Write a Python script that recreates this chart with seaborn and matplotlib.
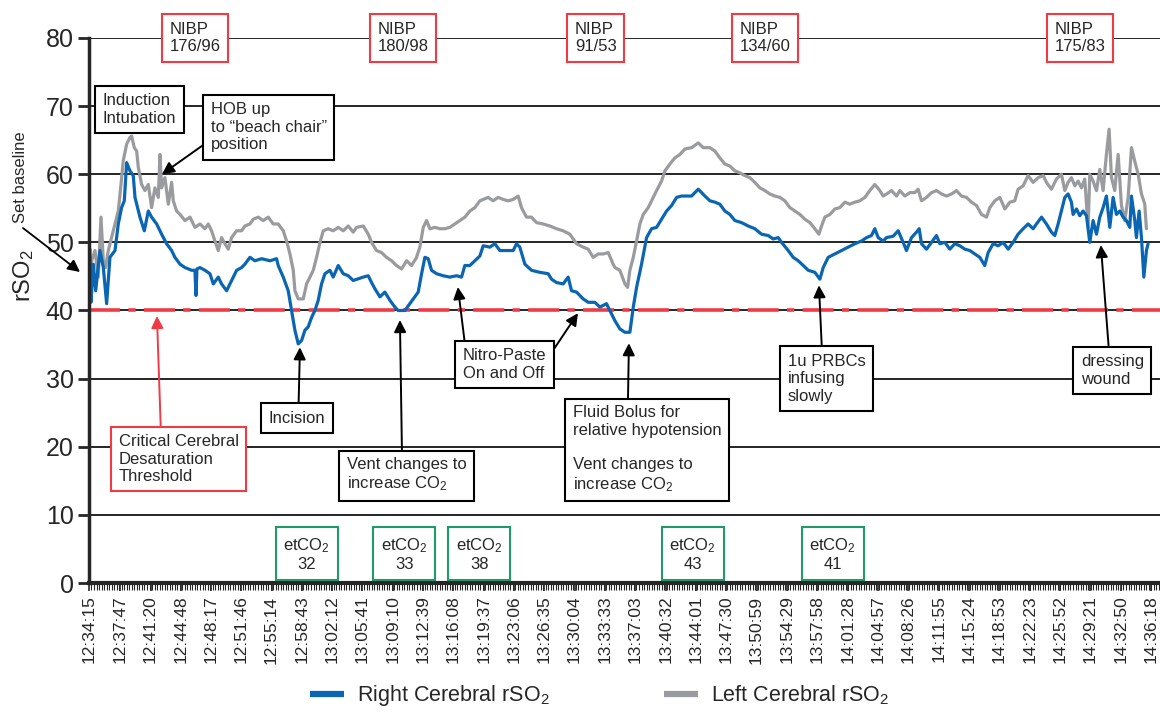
import pandas as pd
import matplotlib
matplotlib.use("Agg")
import matplotlib.pyplot as plt
import seaborn as sns
from matplotlib.ticker import MultipleLocator

# elapsed minutes since 12:34:15 and rSO2 (%)
right_min = [
    0.11, 0.23, 0.50, 0.77, 1.26, 1.65, 2.03, 2.41, 2.99, 3.37,
    3.75, 4.06, 4.33, 4.71, 5.09, 5.29, 5.86, 6.36, 6.82, 7.20,
    7.78, 8.35, 8.92, 9.50, 9.88, 10.46, 11.03, 11.80, 12.18, 12.30,
    12.41, 12.76, 13.33, 13.90, 14.29, 14.86, 15.24, 15.82, 16.39, 16.97,
    17.54, 17.92, 18.50, 19.07, 19.84, 20.80, 21.56, 21.75, 22.33, 22.90,
    23.29, 23.67, 24.05, 24.44, 24.82, 25.20, 25.59, 25.97, 26.35, 26.73,
    27.12, 27.69, 28.07, 28.65, 29.22, 29.80, 30.37, 31.52, 32.10, 32.48,
    32.86, 33.44, 34.01, 34.59, 35.16, 35.54, 36.31, 36.88, 37.46, 37.84,
    38.23, 38.61, 38.99, 39.37, 39.95, 40.71, 41.48, 42.25, 42.82, 43.20,
    43.78, 44.35, 44.93, 45.31, 46.08, 46.65, 47.23, 48.76, 49.14, 49.52,
    50.10, 50.86, 51.82, 52.78, 53.16, 53.74, 54.50, 55.08, 55.46, 56.04,
    56.80, 57.38, 58.14, 58.72, 59.48, 60.06, 60.45, 61.02, 61.60, 62.17,
    62.56, 62.94, 63.51, 64.09, 64.66, 65.24, 65.81, 66.39, 66.96, 67.54,
    68.11, 69.26, 70.03, 70.79, 71.37, 71.94, 72.51, 73.09, 73.66, 74.24,
    75.00, 75.77, 76.54, 77.30, 78.07, 78.64, 79.22, 79.60, 80.37, 80.94,
    81.52, 82.09, 82.67, 83.43, 84.01, 84.39, 84.96, 85.73, 86.49, 87.26,
    88.03, 88.79, 89.37, 89.94, 90.32, 90.71, 91.28, 91.67, 92.43, 93.01,
    93.58, 93.96, 94.54, 95.11, 95.42, 95.69, 96.26, 96.84, 97.41, 97.79,
    98.37, 98.94, 99.52, 100.09, 100.67, 101.24, 101.82, 102.39, 102.96, 103.35,
    103.92, 104.50, 105.07, 105.65, 106.22, 106.79, 107.37, 107.94, 108.52, 108.90,
    109.48, 110.05, 110.62, 111.01, 111.39, 111.77, 112.16, 112.54, 112.92, 113.11,
    113.50, 113.88, 114.26, 114.65, 115.03, 115.41, 115.80, 116.18, 116.56, 116.94,
    117.33, 117.71, 118.09, 118.48, 118.86, 119.24, 119.63, 119.82, 120.20, 120.39,
    120.70, 120.97, 121.24, 121.54, 121.73,
]
right_val = [
    49.0, 41.2, 46.8, 42.9, 48.8, 46.3, 41.0, 47.8, 48.8, 52.7,
    55.1, 56.1, 61.7, 60.5, 59.8, 56.6, 53.7, 51.7, 54.6, 53.7,
    52.7, 51.2, 49.8, 48.8, 47.8, 46.8, 46.3, 45.9, 45.9, 42.2,
    46.1, 46.3, 45.9, 45.4, 43.9, 44.9, 43.9, 42.9, 44.4, 45.9,
    46.3, 46.8, 47.8, 47.3, 47.6, 47.3, 47.6, 46.6, 44.9, 42.9,
    40.0, 37.1, 35.1, 35.6, 37.1, 37.6, 39.0, 40.0, 41.5, 43.9,
    45.4, 45.9, 44.9, 46.6, 45.4, 45.1, 44.4, 44.9, 45.1, 44.1,
    43.2, 42.0, 42.7, 41.5, 40.5, 40.0, 40.0, 41.0, 42.0, 42.7,
    45.4, 47.8, 47.6, 45.9, 45.4, 45.1, 44.9, 45.1, 44.9, 46.6,
    46.6, 47.3, 48.0, 49.5, 49.3, 49.8, 48.8, 48.8, 49.8, 49.3,
    46.8, 45.9, 45.6, 45.4, 44.6, 44.1, 43.9, 44.9, 42.9, 42.7,
    41.7, 41.2, 41.2, 40.5, 41.0, 39.5, 38.5, 37.3, 36.8, 36.8,
    40.5, 43.4, 46.8, 50.7, 52.0, 52.2, 53.4, 54.6, 55.4, 56.6,
    56.8, 56.8, 57.8, 56.8, 56.1, 55.9, 55.6, 54.6, 54.1, 53.2,
    52.9, 52.4, 52.0, 51.2, 51.0, 50.5, 50.7, 50.0, 48.8, 47.8,
    47.3, 46.6, 45.9, 45.6, 44.6, 46.3, 47.8, 48.3, 48.8, 49.3,
    49.8, 50.2, 50.7, 51.0, 52.0, 50.7, 50.2, 50.7, 50.9, 51.7,
    50.0, 48.8, 50.7, 51.5, 52.0, 49.8, 49.0, 50.0, 51.0, 49.8,
    50.0, 49.0, 49.8, 49.5, 49.0, 48.8, 48.3, 47.8, 46.6, 48.5,
    49.8, 49.5, 50.0, 49.0, 50.0, 51.2, 52.0, 52.7, 52.0, 52.7,
    53.7, 52.7, 51.5, 51.0, 52.7, 54.6, 56.6, 57.1, 55.9, 54.1,
    54.9, 53.9, 54.6, 53.9, 50.0, 53.2, 51.2, 53.7, 55.1, 56.8,
    52.2, 56.6, 54.1, 54.6, 53.7, 53.2, 52.2, 56.8, 53.2, 50.7,
    54.6, 50.7, 44.9, 48.8, 49.8,
]

left_min = [
    0.05, 0.31, 0.69, 1.07, 1.38, 1.65, 1.91, 2.22, 2.60, 2.99,
    3.37, 3.68, 3.94, 4.33, 4.71, 4.90, 5.21, 5.48, 5.67, 6.05,
    6.43, 6.82, 7.20, 7.58, 7.97, 8.16, 8.35, 8.73, 9.12, 9.50,
    9.69, 10.07, 10.46, 11.03, 11.61, 12.18, 12.76, 13.33, 13.71, 14.09,
    14.48, 14.86, 15.24, 15.63, 16.01, 16.39, 16.97, 17.54, 17.92, 18.50,
    18.88, 19.46, 20.03, 20.61, 21.18, 21.75, 22.33, 22.71, 23.10, 23.48,
    23.67, 24.05, 24.63, 25.01, 25.40, 25.78, 26.16, 26.55, 26.93, 27.50,
    28.07, 28.65, 29.22, 29.80, 30.37, 30.76, 31.52, 32.10, 32.48, 33.05,
    33.63, 34.20, 34.78, 35.35, 35.93, 36.50, 37.08, 37.65, 38.03, 38.42,
    38.80, 39.18, 39.76, 40.33, 40.91, 41.48, 42.06, 42.63, 43.20, 43.78,
    44.35, 44.93, 45.31, 45.88, 46.46, 47.03, 47.61, 48.18, 48.76, 49.33,
    49.71, 50.29, 50.86, 51.44, 52.20, 52.97, 53.74, 54.50, 55.27, 56.04,
    56.80, 57.38, 57.95, 58.53, 59.10, 59.68, 60.25, 60.45, 61.02, 61.60,
    61.91, 62.17, 62.56, 62.94, 63.32, 63.71, 64.28, 64.66, 65.24, 65.81,
    66.20, 66.77, 67.34, 67.92, 68.49, 69.26, 70.03, 70.60, 71.37, 71.94,
    72.51, 73.09, 73.66, 74.24, 74.81, 75.39, 75.96, 76.54, 77.11, 77.69,
    78.26, 78.83, 79.41, 79.98, 80.56, 81.13, 81.71, 82.28, 82.86, 83.43,
    83.89, 84.20, 84.58, 85.16, 85.73, 86.30, 86.88, 87.45, 88.03, 88.60,
    89.18, 89.75, 90.32, 90.90, 91.28, 91.67, 92.24, 92.82, 93.20, 93.77,
    94.35, 94.92, 95.30, 95.69, 96.26, 96.84, 97.41, 97.99, 98.56, 99.14,
    99.71, 100.28, 100.86, 101.43, 102.01, 102.58, 103.16, 103.54, 104.12, 104.69,
    105.27, 105.84, 106.41, 106.79, 107.37, 107.94, 108.52, 109.09, 109.67, 110.05,
    110.62, 111.20, 111.77, 112.16, 112.54, 112.92, 113.31, 113.69, 114.07, 114.45,
    114.84, 115.03, 115.41, 115.80, 116.18, 116.56, 116.94, 117.25, 117.52, 117.90,
    118.29, 118.67, 119.05, 119.44, 119.82, 120.20, 120.59, 120.97, 121.35, 121.54,
]
left_val = [
    45.5, 47.3, 48.8, 44.9, 53.7, 47.3, 46.3, 48.8, 50.7, 52.7,
    54.6, 58.5, 62.0, 64.4, 65.4, 65.6, 63.9, 63.4, 61.0, 58.5,
    57.6, 58.5, 55.1, 58.0, 56.6, 62.9, 58.0, 59.5, 55.6, 58.8,
    56.1, 54.6, 54.1, 53.2, 53.7, 52.2, 52.7, 52.0, 52.7, 51.7,
    50.2, 48.8, 50.7, 49.8, 49.0, 50.7, 51.7, 51.7, 52.4, 52.7,
    53.4, 53.7, 53.2, 53.7, 52.7, 52.7, 51.7, 50.2, 48.3, 45.9,
    42.9, 41.7, 41.7, 43.9, 44.9, 45.9, 47.8, 50.0, 51.7, 52.0,
    51.7, 52.2, 51.7, 52.4, 51.5, 52.2, 52.4, 51.2, 50.0, 48.8,
    48.5, 47.8, 47.3, 46.6, 46.1, 47.3, 46.6, 47.8, 49.3, 52.2,
    53.2, 52.0, 52.2, 52.0, 52.0, 52.2, 52.7, 53.2, 53.7, 54.6,
    55.1, 56.1, 56.3, 56.6, 56.1, 56.6, 56.3, 56.1, 56.3, 56.8,
    55.1, 53.7, 53.7, 52.9, 52.7, 52.4, 52.0, 51.7, 51.2, 49.8,
    49.3, 49.0, 47.8, 48.3, 48.3, 48.5, 46.8, 46.3, 45.9, 43.9,
    43.4, 45.9, 47.8, 50.2, 52.7, 54.1, 55.1, 56.1, 57.6, 59.0,
    60.5, 61.5, 62.4, 62.9, 63.7, 63.9, 64.6, 63.9, 63.9, 63.4,
    62.4, 61.5, 61.2, 60.5, 60.2, 59.8, 59.5, 58.8, 58.0, 57.6,
    57.1, 56.8, 56.6, 56.1, 55.1, 54.6, 54.1, 53.4, 52.9, 52.0,
    51.2, 52.4, 53.7, 54.1, 54.9, 55.1, 55.9, 55.6, 55.9, 56.1,
    56.6, 57.6, 58.5, 57.6, 56.8, 57.1, 57.6, 56.8, 57.6, 56.8,
    57.3, 57.3, 57.8, 56.1, 56.6, 57.3, 57.6, 57.1, 56.8, 57.1,
    57.6, 56.8, 56.6, 55.9, 55.4, 54.1, 53.7, 55.1, 56.1, 56.6,
    54.9, 55.9, 56.1, 57.8, 58.3, 59.8, 58.8, 59.5, 59.8, 58.8,
    57.8, 59.3, 60.0, 57.6, 58.8, 59.5, 58.3, 59.0, 58.0, 59.3,
    52.2, 60.0, 59.0, 57.6, 60.7, 57.6, 62.9, 66.6, 59.5, 57.6,
    62.9, 55.4, 53.2, 56.6, 63.9, 61.9, 60.0, 57.1, 55.6, 52.0,
]

time_labels = [
    "12:34:15", "12:37:47", "12:41:20", "12:44:48", "12:48:17", "12:51:46",
    "12:55:14", "12:58:43", "13:02:12", "13:05:41", "13:09:10", "13:12:39",
    "13:16:08", "13:19:37", "13:23:06", "13:26:35", "13:30:04", "13:33:33",
    "13:37:03", "13:40:32", "13:44:01", "13:47:30", "13:50:59", "13:54:29",
    "13:57:58", "14:01:28", "14:04:57", "14:08:26", "14:11:55", "14:15:24",
    "14:18:53", "14:22:23", "14:25:52", "14:29:21", "14:32:50", "14:36:18",
]

nibp_min = [9.3, 33.2, 55.85, 74.8, 111.0]
nibp_text = ["NIBP\n176/96", "NIBP\n180/98", "NIBP\n91/53", "NIBP\n134/60", "NIBP\n175/83"]

etco2_min = [25.05, 36.26, 44.88, 69.41, 85.50]
etco2_val = [32, 33, 38, 43, 41]

threshold = 40

BLUE = "#0a66b2"
GRAY = "#999b9e"
RED = "#ee3b45"
GREEN = "#1f9a6b"


def note(ax, text, pos, tip=None, relpos=(0.5, 1), color="black", ha="left"):
    kw = dict(fontsize=12, ha=ha, va="center", zorder=5,
              bbox=dict(boxstyle="square,pad=0.45", fc="white", ec=color, lw=1.5))
    if tip is None:
        ax.text(pos[0], pos[1], text, clip_on=False, **kw)
    else:
        ax.annotate(text, xy=tip, xytext=pos, annotation_clip=False,
                    arrowprops=dict(arrowstyle="-|>", color=color, lw=1.4, relpos=relpos,
                                    shrinkA=0, shrinkB=0, mutation_scale=18), **kw)


def main():
    sns.set_style("ticks")
    plt.rcParams["font.family"] = ["Liberation Sans", "DejaVu Sans"]
    plt.rcParams["mathtext.default"] = "regular"

    fig = plt.figure(figsize=(11.6, 7.15), dpi=100)
    ax = fig.add_axes([0.0767, 0.1846, 0.9233, 0.7623])

    sns.lineplot(x=left_min, y=left_val, color=GRAY, linewidth=2.3, label="Left Cerebral rSO$_2$", ax=ax)
    sns.lineplot(x=right_min, y=right_val, color=BLUE, linewidth=2.3, label="Right Cerebral rSO$_2$", ax=ax)

    ax.axhline(threshold, color=RED, lw=2.6, ls=(0, (8.6, 2.3, 2, 2.3)), zorder=1.8)

    start = pd.to_datetime("12:34:15", format="%H:%M:%S")
    tick_pos = [(pd.to_datetime(t, format="%H:%M:%S") - start).total_seconds() / 60 for t in time_labels]
    ax.set_xticks(tick_pos)
    ax.set_xticklabels(time_labels, rotation=90, fontsize=12.5)
    ax.xaxis.set_minor_locator(MultipleLocator(0.29))
    ax.set_xlim(0, 123.1)
    ax.set_ylim(0, 80)
    ax.set_yticks(range(0, 81, 10))
    ax.tick_params(axis="y", length=8, width=2, labelsize=18, pad=3)
    ax.tick_params(axis="x", which="major", length=6, width=1.2, pad=3)
    ax.tick_params(axis="x", which="minor", length=5, width=0.8)
    ax.grid(axis="y", color="black", lw=1.2)
    ax.set_axisbelow(True)
    sns.despine(ax=ax, top=True, right=True)
    ax.spines["left"].set_linewidth(2.5)
    ax.spines["bottom"].set_linewidth(3)
    ax.set_xlabel("")
    ax.set_ylabel("rSO$_2$", fontsize=17)
    ax.yaxis.set_label_coords(-0.049, 0.563)

    # baseline marker on the left
    ax.annotate("", xy=(-1.03, 45.65), xytext=(-7.58, 52.1), annotation_clip=False,
                arrowprops=dict(arrowstyle="-|>", color="black", lw=1.3, mutation_scale=18,
                                shrinkA=0, shrinkB=0))
    ax.text(-7.87, 59.6, "Set baseline", rotation=90, ha="center", va="center", fontsize=12, clip_on=False)

    for m, t in zip(nibp_min, nibp_text):
        note(ax, t, (m, 80), color=RED)
    for m, v in zip(etco2_min, etco2_val):
        note(ax, "etCO$_2$\n%d" % v, (m, 4.26), color=GREEN, ha="center")

    note(ax, "Induction\nIntubation", (1.61, 69.5))
    note(ax, "HOB up\nto \u201cbeach chair\u201d\nposition", (14.0, 66.9), tip=(8.39, 60.0), relpos=(0, 0.25))
    note(ax, "Incision", (20.69, 24.2), tip=(24.25, 34.6), relpos=(0.52, 1))
    note(ax, "Vent changes to\nincrease CO$_2$", (29.65, 15.85), tip=(35.74, 38.6), relpos=(0.46, 1))
    note(ax, "Nitro-Paste\nOn and Off", (42.98, 32.1), tip=(42.4, 43.45), relpos=(0.03, 1))
    ax.annotate("", xy=(56.2, 39.6), xytext=(53.21, 33.9),
                arrowprops=dict(arrowstyle="-|>", color="black", lw=1.4, mutation_scale=18,
                                shrinkA=0, shrinkB=0))
    note(ax, "Fluid Bolus for\nrelative hypotension\n\nVent changes to\nincrease CO$_2$",
         (55.62, 19.6), tip=(62.06, 35.2), relpos=(0.37, 1))
    note(ax, "1u PRBCs\ninfusing\nslowly", (80.33, 30.0), tip=(83.9, 43.7), relpos=(0.44, 1))
    note(ax, "dressing\nwound", (114.0, 31.2), tip=(116.3, 49.6), relpos=(0.45, 1))
    note(ax, "Critical Cerebral\nDesaturation\nThreshold", (3.45, 18.2), tip=(7.81, 39.2),
         relpos=(0.35, 1), color=RED)

    handles, labels = ax.get_legend_handles_labels()
    ax.get_legend().remove()
    leg = fig.legend(handles[::-1], labels[::-1], loc="center", bbox_to_anchor=(0.517, 0.027),
                     ncol=2, frameon=False, fontsize=15.5, handlelength=1.6,
                     columnspacing=5.3, handletextpad=0.6)
    for line in leg.get_lines():
        line.set_linewidth(4.5)
        line.set_solid_capstyle("butt")

    fig.savefig("out.png", dpi=100)


if __name__ == "__main__":
    main()
